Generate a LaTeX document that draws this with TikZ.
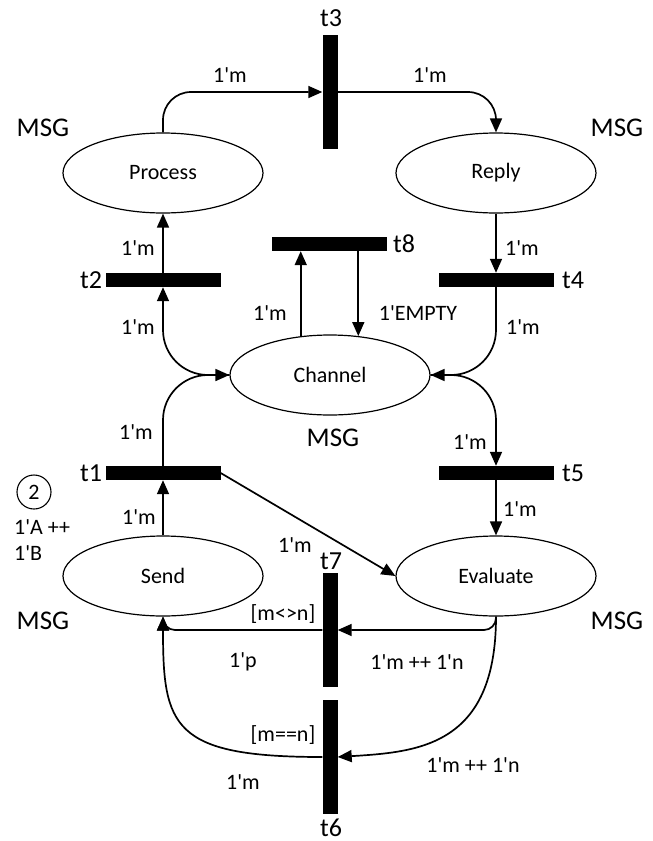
\documentclass[tikz,border=0pt]{standalone}
\usepackage{fontspec}
\setmainfont{Carlito}[Ligatures=TeXOff]
\usetikzlibrary{shapes.geometric,arrows.meta,calc}
\begin{document}
\begin{tikzpicture}[x=1pt,y=-1pt,
  place/.style={ellipse,draw,line width=1.2pt,minimum width=200pt,minimum height=80pt,inner sep=0pt,font=\fontsize{22}{26}\selectfont},
  hbar/.style={fill=black,minimum width=115pt,minimum height=14pt,inner sep=0pt},
  vbar/.style={fill=black,minimum width=15pt,minimum height=114pt,inner sep=0pt},
  arc/.style={line width=1.7pt,-{Triangle[length=14pt,width=12pt]}},
  lbl/.style={font=\fontsize{22}{26}\selectfont,inner sep=0pt},
  tlbl/.style={font=\fontsize{26}{30}\selectfont,inner sep=0pt},
  msg/.style={font=\fontsize{27}{31}\selectfont,inner sep=0pt},
]
\useasboundingbox (0,0) rectangle (653,841);
% places
\node[place] (process) at (163,173) {Process};
\node[place] (reply) at (496,173) {Reply};
\node[place] (channel) at (330,375) {Channel};
\node[place] (send) at (163,576) {Send};
\node[place] (evaluate) at (496,576) {Evaluate};
% transitions
\node[vbar] (t3) at (330,92) {};
\node[hbar] (t2) at (163,280) {};
\node[hbar] (t8) at (329,244) {};
\node[hbar] (t4) at (496,280) {};
\node[hbar] (t1) at (163,473) {};
\node[hbar] (t5) at (496,473) {};
\node[vbar] (t7) at (330,630) {};
\node[vbar] (t6) at (330,757) {};
% transition names
\node[tlbl] (n3) at (331,18) {t3};
\node[tlbl] (n2) at (91,280) {t2};
\node[tlbl] (n8) at (404,244) {t8};
\node[tlbl] (n4) at (573,280) {t4};
\node[tlbl] (n1) at (91,473) {t1};
\node[tlbl] (n5) at (573,473) {t5};
\node[tlbl] (n7) at (331,561) {t7};
\node[tlbl,anchor=base,text depth=0pt] (n6) at (331,836) {t6};
% colour sets
\node[msg] (c1) at (43,128) {MSG};
\node[msg] (c2) at (617,128) {MSG};
\node[msg] (c3) at (333,438) {MSG};
\node[msg] (c4) at (43,621) {MSG};
\node[msg] (c5) at (617,621) {MSG};
% initial marking
\node[circle,draw,line width=1.1pt,minimum size=34pt,inner sep=0pt,lbl] (tok) at (34,492) {2};
\node[lbl,anchor=west] (im1) at (14,527) {1'A ++};
\node[lbl,anchor=west] (im2) at (14,553) {1'B};
% arcs
\draw[arc,rounded corners=28pt] (process.north) |- (t3.west);
\draw[arc,rounded corners=28pt] (t3.east) -| (reply.north);
\draw[arc] (t2.north) -- (process.south);
\draw[arc] (reply.south) -- (t4.north);
\draw[arc,rounded corners=45pt] (channel.west) -| (t2.south);
\draw[arc,rounded corners=45pt] (t1.north) |- (channel.west);
\draw[arc,rounded corners=45pt] (t4.south) |- (channel.east);
\draw[arc,rounded corners=45pt] (channel.east) -| (t5.north);
\draw[arc] (send.north) -- (t1.south);
\draw[arc] (t5.south) -- (evaluate.north);
\draw[arc] (t1.east) -- (evaluate.west);
\draw[arc] (channel.127) -- (channel.127 |- t8.south);
\draw[arc] (channel.54 |- t8.south) -- (channel.54);
\draw[arc,rounded corners=12pt] (evaluate.south) |- (t7.east);
\draw[arc] (evaluate.south) .. controls ($(evaluate.south)+(0,130)$) and ($(t6.east)+(80,-5)$) .. (t6.east);
\draw[arc,rounded corners=12pt] (t7.west) -| (send.south);
\draw[arc] (t6.west) .. controls ($(t6.west)+(-150,0)$) and ($(send.south)+(0,110)$) .. (send.south);
% arc inscriptions
\node[lbl] (a1) at (230,75) {1'm};
\node[lbl] (a2) at (430,75) {1'm};
\node[lbl] (a3) at (138,248) {1'm};
\node[lbl] (a4) at (138,327) {1'm};
\node[lbl] (a5) at (136,432) {1'm};
\node[lbl] (a6) at (139,517) {1'm};
\node[lbl] (a7) at (270,313) {1'm};
\node[lbl] (a8) at (418,313) {1'EMPTY};
\node[lbl] (a9) at (522,248) {1'm};
\node[lbl] (a10) at (523,327) {1'm};
\node[lbl] (a11) at (470,442) {1'm};
\node[lbl] (a12) at (520,509) {1'm};
\node[lbl] (a13) at (295,545) {1'm};
\node[lbl] (a14) at (417,662) {1'm ++ 1'n};
\node[lbl] (a15) at (473,765) {1'm ++ 1'n};
\node[lbl] (a16) at (283,614) {[m<>n]};
\node[lbl] (a17) at (243,662) {1'p};
\node[lbl] (a18) at (283,735) {[m==n]};
\node[lbl] (a19) at (243,782) {1'm};
\end{tikzpicture}
\end{document}
